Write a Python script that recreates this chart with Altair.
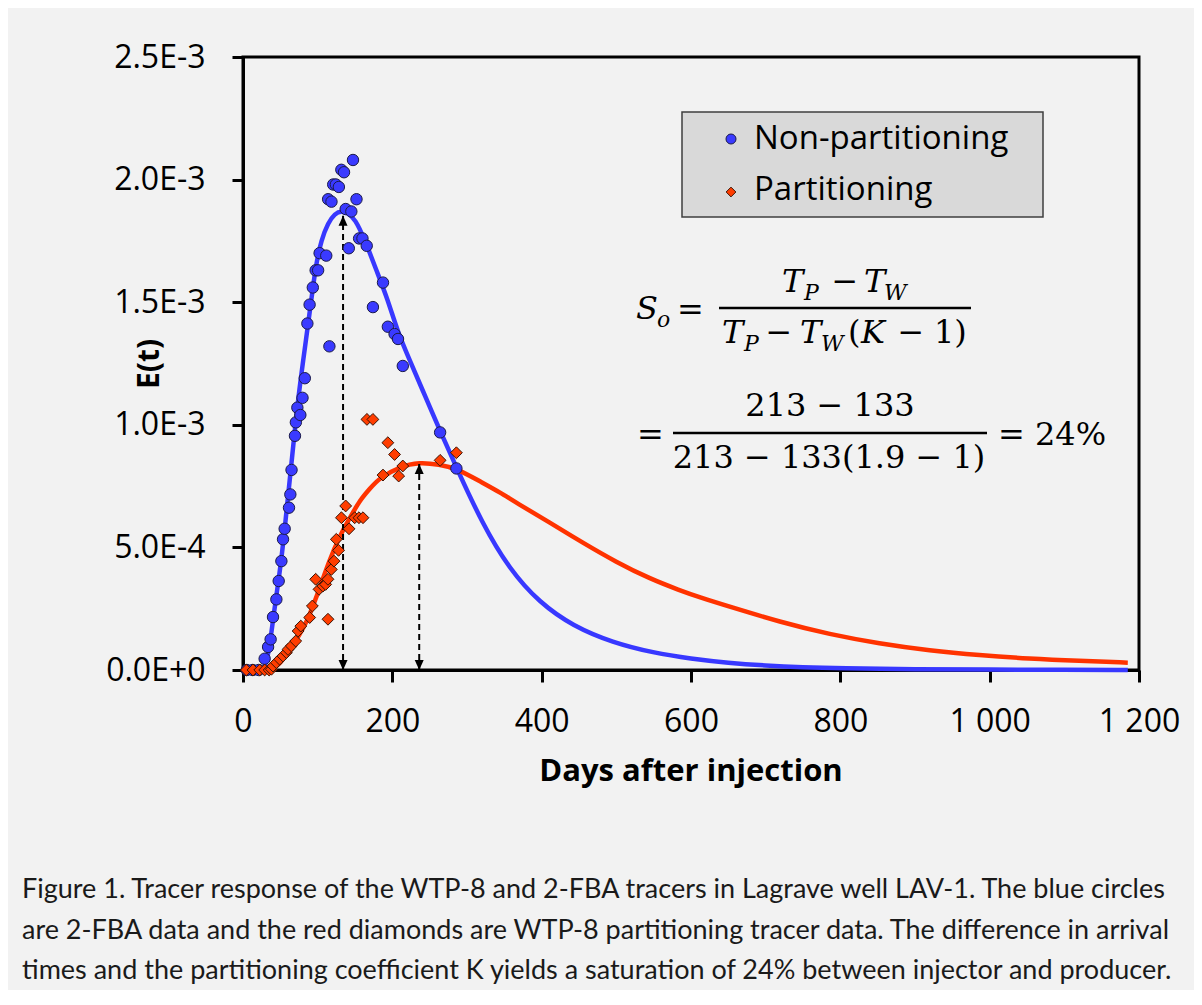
import json
import altair as alt
import pandas as pd

# ---------------- data (E values in units of 1e-3) ----------------
series_names = ["Non-partitioning", "Partitioning"]

nonpart_days = [5, 13, 21, 29, 33.6, 37, 40.2, 44.7, 47.8, 51.4, 53.6, 55.8,
                61.6, 63.4, 65, 69.6, 70.8, 72.8, 76.8, 79.7, 82.8,
                86.2, 89.2, 93.5, 97.3, 100.6, 102.6, 111.5,
                114, 118.5, 115.7, 120.8, 124.4, 128.4, 131.7, 135.3,
                137.5, 141.7, 145.1, 147.3, 152, 155.5, 160, 165.7,
                174, 187.5, 194, 203, 207.6, 214, 264, 285.8]
nonpart_E = [0, 0, 0, 0.046, 0.094, 0.125, 0.216, 0.288, 0.363, 0.444, 0.533, 0.576,
             0.662, 0.716, 0.816, 0.955, 1.01, 1.07, 1.04, 1.11, 1.19,
             1.413, 1.49, 1.56, 1.63, 1.63, 1.70, 1.69,
             1.92, 1.91, 1.32, 1.98, 1.98, 1.97, 2.04, 2.03,
             1.88, 1.72, 1.87, 2.08, 1.92, 1.76, 1.76, 1.73,
             1.48, 1.58, 1.40, 1.37, 1.35, 1.24, 0.969, 0.822]

part_days = [4.5, 13.4, 22.4, 29, 35,
             38, 40.2, 44.7, 49.1, 53.6, 58.1, 60.3, 64.8, 70.6, 73.8,
             77.4, 89.3, 92.9, 97.3, 101.8, 107, 110.7, 113.8, 113.8, 118.3,
             121.9, 128, 125, 142, 131.8, 137.5, 149.6, 155.3, 160.7, 166,
             174, 187.5, 194, 203, 208.5, 214, 264, 285.8]
part_E = [0, 0, 0, 0, 0,
          0.003, 0.016, 0.030, 0.044, 0.057, 0.071, 0.084, 0.098, 0.118, 0.159,
          0.179, 0.214, 0.261, 0.370, 0.329, 0.342, 0.349, 0.370, 0.207, 0.41,
          0.444, 0.488, 0.533, 0.576, 0.621, 0.669, 0.621, 0.621, 0.621, 1.022,
          1.022, 0.795, 0.927, 0.879, 0.791, 0.832, 0.855, 0.886]

# fitted model curves
nonpart_fit_days = [0, 20, 26, 30, 35, 40, 45, 51, 56, 65, 74, 85, 91.6, 97.3, 105, 114,
                    123, 132, 141, 150, 163, 178, 194, 207, 223, 244, 264, 286,
                    320, 357, 397, 442, 495, 550, 600, 650, 700, 750, 800, 900,
                    1000, 1100, 1185]
nonpart_fit_E = [0, 0, 0, 0.02, 0.08, 0.2, 0.31, 0.44, 0.58, 0.845, 1.117, 1.36, 1.511,
                 1.647, 1.756, 1.824, 1.862, 1.872, 1.862, 1.84, 1.756, 1.635, 1.51,
                 1.38, 1.265, 1.117, 0.974, 0.825, 0.60, 0.41, 0.275, 0.179, 0.112,
                 0.07, 0.046, 0.029, 0.018, 0.011, 0.007, 0.003, 0.0015, 0.0007, 0.0003]

part_fit_days = [0, 30, 38, 50, 62.5, 75, 85, 100, 114, 130, 145, 156, 170, 183, 210,
                 236, 263, 286, 320, 344, 366, 411, 455, 500, 545, 585, 611, 652,
                 719, 786, 852, 920, 986, 1053, 1120, 1185]
part_fit_E = [0, 0, 0, 0.025, 0.083, 0.14, 0.193, 0.31, 0.435, 0.55, 0.63, 0.69, 0.74,
              0.784, 0.829, 0.848, 0.838, 0.822, 0.765, 0.725, 0.682, 0.601, 0.519,
              0.440, 0.372, 0.325, 0.297, 0.258, 0.196, 0.145, 0.108, 0.079, 0.06,
              0.046, 0.037, 0.030]

arrow_days = [134, 236]
arrow_tops = [1.853, 0.840]

x_tick_values = [0, 200, 400, 600, 800, 1000, 1200]
x_tick_labels = ["0", "200", "400", "600", "800", "1 000", "1 200"]
y_tick_values = [0, 0.5, 1.0, 1.5, 2.0, 2.5]
y_tick_labels = ["0.0E+0", "5.0E-4", "1.0E-3", "1.5E-3", "2.0E-3", "2.5E-3"]

x_title = "Days after injection"
y_title = "E(t)"

caption_lines = [
    "Figure 1. Tracer response of the WTP-8 and 2-FBA tracers in Lagrave well LAV-1. The blue circles",
    "are 2-FBA data and the red diamonds are WTP-8 partitioning tracer data. The difference in arrival",
    "times and the partitioning coefficient K yields a saturation of 24% between injector and producer.",
]

# ---------------- styling ----------------
W, H = 896, 613
OX, OY = 243, 57          # page position of plot origin
BLUE_LINE = "#3838ff"
RED_LINE = "#ff3300"
BLUE_FILL = "#3a3aff"
RED_FILL = "#ff3d00"
SANS = "Open Sans"
CAP_FONT = "Lato"
SERIF = "DejaVu Serif"

x_scale = alt.Scale(domain=[0, 1200], nice=False)
y_scale = alt.Scale(domain=[0, 2.5], nice=False)

x_axis = alt.Axis(values=x_tick_values,
                  labelExpr=json.dumps(x_tick_labels) + "[round(datum.value/200)]",
                  labelFont=SANS, labelFontSize=32, labelColor="black", labelPadding=24,
                  labelFlush=False, labelOverlap=False,
                  tickSize=12, tickWidth=3, tickColor="black",
                  domainColor="black", domainWidth=3, grid=False, title=None)
y_axis = alt.Axis(values=y_tick_values,
                  labelExpr=json.dumps(y_tick_labels) + "[round(datum.value*2)]",
                  labelFont=SANS, labelFontSize=32, labelColor="black", labelPadding=27,
                  labelFlush=False, labelOverlap=False,
                  tickSize=11, tickWidth=3, tickColor="black",
                  domainColor="black", domainWidth=3, grid=False, title=None)

blue_pts = pd.DataFrame({"day": nonpart_days, "E": nonpart_E, "series": series_names[0]})
red_pts = pd.DataFrame({"day": part_days, "E": part_E, "series": series_names[1]})
blue_fit = pd.DataFrame({"day": nonpart_fit_days, "E": nonpart_fit_E})
red_fit = pd.DataFrame({"day": part_fit_days, "E": part_fit_E})
arrows = pd.DataFrame({"day": arrow_days, "top": arrow_tops, "zero": [0, 0]})

X = alt.X("day:Q", scale=x_scale, axis=x_axis)
Y = alt.Y("E:Q", scale=y_scale, axis=y_axis)

line_blue = alt.Chart(blue_fit).mark_line(color=BLUE_LINE, strokeWidth=4.5,
                                          interpolate="basis").encode(x=X, y=Y)
line_red = alt.Chart(red_fit).mark_line(color=RED_LINE, strokeWidth=4.5,
                                        interpolate="basis").encode(x=X, y=Y)

arrow_shaft = alt.Chart(arrows).mark_rule(color="black", strokeWidth=2,
                                          strokeDash=[6, 4]).encode(
    x=alt.X("day:Q", scale=x_scale), y=alt.Y("zero:Q", scale=y_scale), y2="top:Q")
head_up = alt.Chart(arrows).mark_point(shape="M0,0 L-0.45,1 L0.45,1 Z", size=400,
                                       filled=True, color="black", opacity=1).encode(
    x=alt.X("day:Q", scale=x_scale), y=alt.Y("top:Q", scale=y_scale))
head_down = alt.Chart(arrows).mark_point(shape="M0,0 L-0.45,-1 L0.45,-1 Z", size=400,
                                         filled=True, color="black", opacity=1).encode(
    x=alt.X("day:Q", scale=x_scale), y=alt.Y("zero:Q", scale=y_scale))

pts_blue = alt.Chart(blue_pts).mark_point(shape="circle", size=130, filled=True,
                                          fill=BLUE_FILL, stroke="#1b1b4a", strokeWidth=1,
                                          opacity=1).encode(x=X, y=Y)
pts_red = alt.Chart(red_pts).mark_point(shape="diamond", size=140, filled=True,
                                        fill=RED_FILL, stroke="#3a1405", strokeWidth=1,
                                        opacity=1).encode(x=X, y=Y)

one = pd.DataFrame({"k": [0]})


def txt(text, x, y, size, font=SANS, align="left", baseline="alphabetic",
        style="normal", weight="normal", angle=0, color="black"):
    return alt.Chart(pd.DataFrame({"t": [text]})).mark_text(
        font=font, fontSize=size, align=align, baseline=baseline,
        fontStyle=style, fontWeight=weight, angle=angle, color=color).encode(
        x=alt.value(x - OX), y=alt.value(y - OY), text="t:N")


def hline(x1, x2, y, width=2.5, color="black"):
    return alt.Chart(one).mark_rule(color=color, strokeWidth=width).encode(
        x=alt.value(x1 - OX), x2=alt.value(x2 - OX), y=alt.value(y - OY))


# legend
legend_box = alt.Chart(one).mark_rect(fill="#d9d9d9", stroke="#3f3f3f",
                                      strokeWidth=1.5).encode(
    x=alt.value(682 - OX), x2=alt.value(1043 - OX),
    y=alt.value(112 - OY), y2=alt.value(217 - OY))
leg_circle = alt.Chart(one).mark_point(shape="circle", size=100, filled=True, fill=BLUE_FILL,
                                       stroke="#1b1b4a", strokeWidth=1, opacity=1).encode(
    x=alt.value(731 - OX), y=alt.value(139 - OY))
leg_diamond = alt.Chart(one).mark_point(shape="diamond", size=95, filled=True, fill=RED_FILL,
                                        stroke="#3a1405", strokeWidth=1, opacity=1).encode(
    x=alt.value(731 - OX), y=alt.value(192 - OY))
leg_t1 = txt(series_names[0], 754, 149, 33)
leg_t2 = txt(series_names[1], 754, 200, 33)

# formula
FS, SS = 32, 22
formula = [
    txt("S", 636, 319, FS, SERIF, style="italic"),
    txt("o", 657, 327, SS, SERIF, style="italic"),
    txt("=", 677, 320, FS, SERIF),
    hline(719, 971, 308),
    txt("T", 782, 292, FS, SERIF, style="italic"),
    txt("P", 804, 300, SS, SERIF, style="italic"),
    txt("\u2212", 845, 292, FS, SERIF, align="center"),
    txt("T", 864, 292, FS, SERIF, style="italic"),
    txt("W", 884, 300, SS, SERIF, style="italic"),
    txt("T", 722, 343, FS, SERIF, style="italic"),
    txt("P", 744, 351, SS, SERIF, style="italic"),
    txt("\u2212", 779, 343, FS, SERIF, align="center"),
    txt("T", 800, 343, FS, SERIF, style="italic"),
    txt("W", 821, 351, SS, SERIF, style="italic"),
    txt("(", 848, 343, FS, SERIF),
    txt("K", 861, 343, FS, SERIF, style="italic"),
    txt("\u2212", 911, 343, FS, SERIF, align="center"),
    txt("1)", 934, 343, FS, SERIF),
    txt("=", 637, 445, FS, SERIF),
    hline(673, 987, 433),
    txt("213 \u2212 133", 830, 416, FS, SERIF, align="center"),
    txt("213 \u2212 133(1.9 \u2212 1)", 829, 468, FS, SERIF, align="center"),
    txt("= 24%", 998, 445, FS, SERIF),
]

# axis titles
title_x = txt(x_title, OX + W / 2, 781, 31, weight="bold", align="center")
title_y = txt(y_title, 150, 364, 30, weight="bold", align="center", baseline="middle", angle=270)

# caption
caption = [txt(line, 22, yy, 27, font=CAP_FONT, baseline="middle", color="#1a1a1a")
           for line, yy in zip(caption_lines, [890, 931, 971])]

chart = alt.layer(
    line_blue, line_red, arrow_shaft, head_up, head_down, pts_blue, pts_red,
    legend_box, leg_circle, leg_diamond, leg_t1, leg_t2,
    *formula, title_x, title_y, *caption
).properties(
    width=W, height=H,
    padding={"left": OX - 8, "top": OY - 8, "right": 55, "bottom": 320},
    autosize=alt.AutoSizeParams(type="none"),
    background="#f2f2f2",
).configure_view(stroke="black", strokeWidth=3, fill="#f2f2f2")

chart.save("out.html", embed_options={"renderer": "svg", "actions": False})
